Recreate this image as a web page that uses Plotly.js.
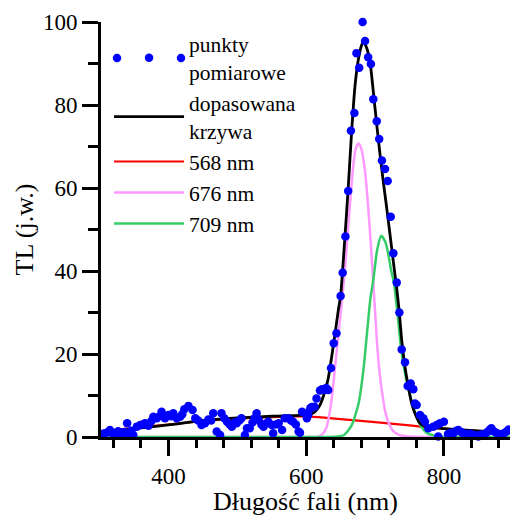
<!DOCTYPE html>
<html>
<head>
<meta charset="utf-8">
<script src="https://cdn.plot.ly/plotly-3.0.1.min.js"></script>
<style>html,body{margin:0;padding:0;overflow:hidden;background:#fff}</style>
</head>
<body>
<div id="chart" style="width:510px;height:516px"></div>
<script>
// measured points (wavelength nm, TL a.u.)
const wl = [301,305,308,312,315,320,324,327,332,336,340,342,346,349,354,359,363,366,371,375,378,383,387,390,395,400,404,407,412,417,420,423,429,435,439,443,448,453,458,462,465,470,475,477,481,485,489,492,496,499,503,506,511,514,518,522,525,528,531,535,538,541,545,550,552,556,560,565,569,574,578,581,585,589,591,594,598,601,603,606,608,612,615,620,623,626,629,632,636,640,644,650,653,657,661,665,670,673,677,682,685.5,690,694,697.5,702.5,706,710,714.5,718.4,722.8,726.6,731.5,735.3,738.7,743.5,747.4,751.8,755.6,758,760.4,765.3,770.1,772.5,777.4,784.6,789.5,791.8,794.3,800,806,810,814,818,821,825,828,832,835,839,843,846,850,854,857,861,864,867,869,873,877,880,884,887,891,894,897];
const tl = [0.3,0.8,0.9,1.2,1.7,0.6,1.0,1.4,0.5,1.2,3.3,0.9,1.5,0.5,2.5,2.9,3.0,3.3,2.7,3.8,4.9,4.5,5.0,6.1,4.5,5.3,5.0,5.7,4.5,4.9,5.5,6.7,7.5,6.5,4.5,4.0,2.9,3.3,4.2,4.0,5.7,1.3,0.5,5.7,4.5,3.7,3.0,2.5,3.5,3.3,4.0,4.5,0.5,2.1,2.1,3.5,4.5,5.7,4.1,3.0,2.5,3.2,3.7,2.9,0.9,3.0,3.3,1.7,4.5,4.5,4.0,3.7,3.0,1.3,1.0,6.1,5.7,4.5,5.3,6.9,7.2,7.3,9.3,11.2,11.5,11.3,11.8,11.3,16.6,22.6,25.0,34.0,39.6,48.3,59.3,73.8,78.1,92.5,89.0,100,95.4,91.5,89.9,81.4,76.1,71.8,66.6,64.6,61.7,53.1,44.3,37.2,30.0,21.1,18.0,12.3,12.9,11.5,8.1,7.7,5.3,4.5,3.7,2.1,2.5,2.9,0.1,3.3,3.7,0.7,1.0,0.9,1.5,1.7,1.2,0.9,0.7,0.5,0.8,0.5,0.4,0.1,0.6,0.5,0.9,1.3,1.8,2.1,1.3,0.9,0.7,0.5,0.9,1.3,1.8,2.1];

// fitted sum curve
const fitX = [300,320,350,400,450,500,550,590,605,610.5,615,620,627,632,637,642,646.7,650,651.7,656.5,661,666,671,676,680.7,683,688,692.7,697.5,702.5,707.3,712,717,721.8,726.6,731.5,735.3,738.7,743.5,748.3,753.2,758,765.3,772,780,800,850,900];
const fitY = [1.2,1.4,2.0,2.9,4.0,4.6,5.0,5.2,5.4,5.8,6.5,7.7,10.9,14.1,19.3,25.0,30.6,34.0,37.4,48.7,59.9,73.6,84.8,91.2,94.5,95.3,93.7,90.4,83.2,75.2,68.0,61.5,55.1,48.7,42.2,35.8,29.9,23.4,16.9,12.1,8.1,5.7,3.3,2.6,2.3,2.0,1.5,1.0];

// component 568 nm
const c568X = [300,350,400,450,500,550,568,605,650,700,750,770,800,850,900];
const c568Y = [1.3,2.2,3.0,3.8,4.4,4.8,4.9,4.9,4.3,3.6,2.8,2.4,2.0,1.4,0.9];

// component 676 nm
const c676X = [300,450,600,615,622,629,634,638,642,647,652,657,664,668.5,672,676,680,685.5,690,694.7,697.5,700,703,706,710,715,720,726,735,750,770,900];
const c676Y = [0,0,0,0,0.4,2.1,5.8,10.5,17,25,33,42,57,65.5,69.5,70.8,69.5,64,55.5,44.5,37,30.5,22.5,16.5,11,6,3.3,1.5,0.5,0.1,0,0];

// component 709 nm
const c709X = [300,450,600,630,645,655,666,676,683,688,693,698,703,709,715,719,723,727.6,733.4,738,745.5,752.7,760,767,775,790,810,900];
const c709Y = [0,0,0,0,0.1,0.5,2.8,8,16,24.5,33,38.5,45,48.5,47,44.3,40.5,37,28.5,21,13.7,8.9,5,2.5,1,0.2,0,0];

const names = ['punkty<br>pomiarowe','dopasowana<br>krzywa','568 nm','676 nm','709 nm'];

const serif = '"Liberation Serif", "Times New Roman", serif';

const traces = [
  {x:c568X, y:c568Y, mode:'lines', name:names[2], legendrank:3,
   line:{color:'#ff0000', width:2.2, shape:'spline', smoothing:0.8}},
  {x:c676X, y:c676Y, mode:'lines', name:names[3], legendrank:4,
   line:{color:'#ff99ff', width:2.5, shape:'spline', smoothing:0.6}},
  {x:c709X, y:c709Y, mode:'lines', name:names[4], legendrank:5,
   line:{color:'#33cc66', width:2.5, shape:'spline', smoothing:0.6}},
  {x:fitX, y:fitY, mode:'lines', name:names[1], legendrank:2,
   line:{color:'#000000', width:2.8, shape:'spline', smoothing:0.6}},
  {x:wl, y:tl, mode:'markers', name:names[0], legendrank:1, cliponaxis:false,
   marker:{color:'#0000ff', size:8.5, line:{width:0}}}
];

// extra legend dots (legend decoration: "• • •")
const legDotY = 1 - (58 - 22) / 415;
const legDots = [117, 181].map(px => ({
  type:'circle', xref:'paper', yref:'paper', xsizemode:'pixel', ysizemode:'pixel',
  xanchor:(px - 101) / 409, yanchor:legDotY, x0:-4.25, x1:4.25, y0:-4.25, y1:4.25,
  fillcolor:'#0000ff', line:{width:0}
}));

const layout = {
  width:510, height:516,
  margin:{l:101, r:0, t:22, b:79},
  paper_bgcolor:'#fff', plot_bgcolor:'#fff',
  font:{family:serif, color:'#000', size:22},
  showlegend:true,
  shapes:legDots,
  legend:{x:0.0197, y:0.997, xanchor:'left', yanchor:'top', bgcolor:'rgba(0,0,0,0)',
          font:{family:serif, size:21.5, color:'#000'}, itemwidth:70, tracegroupgap:0},
  xaxis:{range:[302,896], showgrid:false, zeroline:false, showline:true, linecolor:'#000', linewidth:3,
         ticks:'outside', ticklen:16, tickwidth:3, tickcolor:'#000', tickvals:[400,600,800],
         ticktext:['400','600','800'],
         minor:{tickvals:[320,360,440,480,520,560,640,680,720,760,840,880], ticks:'outside', ticklen:8, tickwidth:3, tickcolor:'#000'},
         tickfont:{family:serif, size:23, color:'#000'},
         title:{text:'Długość fali (nm)', font:{family:serif, size:26, color:'#000'}, standoff:8}},
  yaxis:{range:[0,100], showgrid:false, zeroline:false, showline:true, linecolor:'#000', linewidth:3,
         ticks:'outside', ticklen:16, tickwidth:3, tickcolor:'#000', tickvals:[0,20,40,60,80,100],
         ticktext:['0','20','40','60','80','100'],
         minor:{tickvals:[10,30,50,70,90], ticks:'outside', ticklen:10, tickwidth:3, tickcolor:'#000'},
         tickfont:{family:serif, size:23, color:'#000'},
         title:{text:'TL (j.w.)', font:{family:serif, size:26, color:'#000'}, standoff:2}}
};

Plotly.newPlot('chart', traces, layout, {displayModeBar:false, staticPlot:true});
</script>
</body>
</html>
